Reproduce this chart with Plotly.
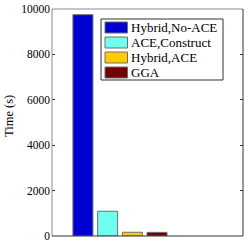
import plotly.graph_objects as go

series = ["Hybrid,No-ACE", "ACE,Construct", "Hybrid,ACE", "GGA"]
values = [9750, 1090, 165, 160]
colors = ["#0000D2", "#70FFEE", "#FFCC00", "#730000"]
yticks = [0, 2000, 4000, 6000, 8000, 10000]

FONT = "Liberation Serif"
fig = go.Figure()
for name, v, c in zip(series, values, colors):
    fig.add_trace(go.Bar(x=[0], y=[v], name=name, showlegend=False,
                         marker=dict(color=c, line=dict(color="#6e6e6e", width=1))))

# spines
spines = [((0, 0), (0, 1), "#8c8c8c"), ((0, 1), (1, 1), "#8c8c8c"),
          ((1, 0), (1, 1), "#333333"), ((0, 0), (1, 0), "#333333")]
for (x0, y0), (x1, y1), col in spines:
    fig.add_shape(type="line", xref="paper", yref="paper", x0=x0, y0=y0, x1=x1, y1=y1,
                  line=dict(color=col, width=1))

# custom legend (paper coordinates of the plot area: 191 x 227 px)
PW, PH = 191.0, 227.0
def px(x):
    return (x - 52) / PW
def py(y):
    return (236 - y) / PH
fig.add_shape(type="rect", xref="paper", yref="paper", x0=px(101), x1=px(223), y0=py(80), y1=py(19),
              line=dict(color="#333333", width=1), fillcolor="white")
row_tops = [22, 37, 52, 67]
for name, c, top in zip(series, colors, row_tops):
    fig.add_shape(type="rect", xref="paper", yref="paper", x0=px(105), x1=px(127.5),
                  y0=py(top + 11), y1=py(top), line=dict(color="#6e6e6e", width=1), fillcolor=c)
    fig.add_annotation(xref="paper", yref="paper", x=px(129), y=py(top + 5.5), text=name,
                       showarrow=False, xanchor="left", yanchor="middle",
                       font=dict(family=FONT, size=13, color="black"))

fig.add_annotation(xref="paper", yref="paper", x=px(9), y=py(116), text="Time (s)", textangle=-90,
                   showarrow=False, xanchor="center", yanchor="middle",
                   font=dict(family=FONT, size=12.5, color="black"))

fig.update_layout(
    width=249, height=242,
    margin=dict(l=52, r=6, t=9, b=6, autoexpand=False),
    paper_bgcolor="white", plot_bgcolor="white",
    barmode="group", bargap=0, bargroupgap=0.19,
    font=dict(family=FONT, size=11.5, color="black"),
    showlegend=False,
    xaxis=dict(range=[-0.688, 1.245], showticklabels=False, ticks="",
               showline=False, showgrid=False, zeroline=False, type="linear", automargin=False),
    yaxis=dict(range=[0, 10000], tickvals=yticks, ticktext=[str(t) for t in yticks],
               ticks="inside", ticklen=3, tickcolor="#333333", mirror="ticks",
               showline=False, showgrid=False, zeroline=False, automargin=False,
               ticklabeloverflow="allow", ticklabelstandoff=1,
               tickfont=dict(family=FONT, size=11.5, color="black")),
)
fig.write_html("out.html", config={"displayModeBar": False},
               post_script="document.body.style.margin='0';document.body.style.overflow='hidden';")
